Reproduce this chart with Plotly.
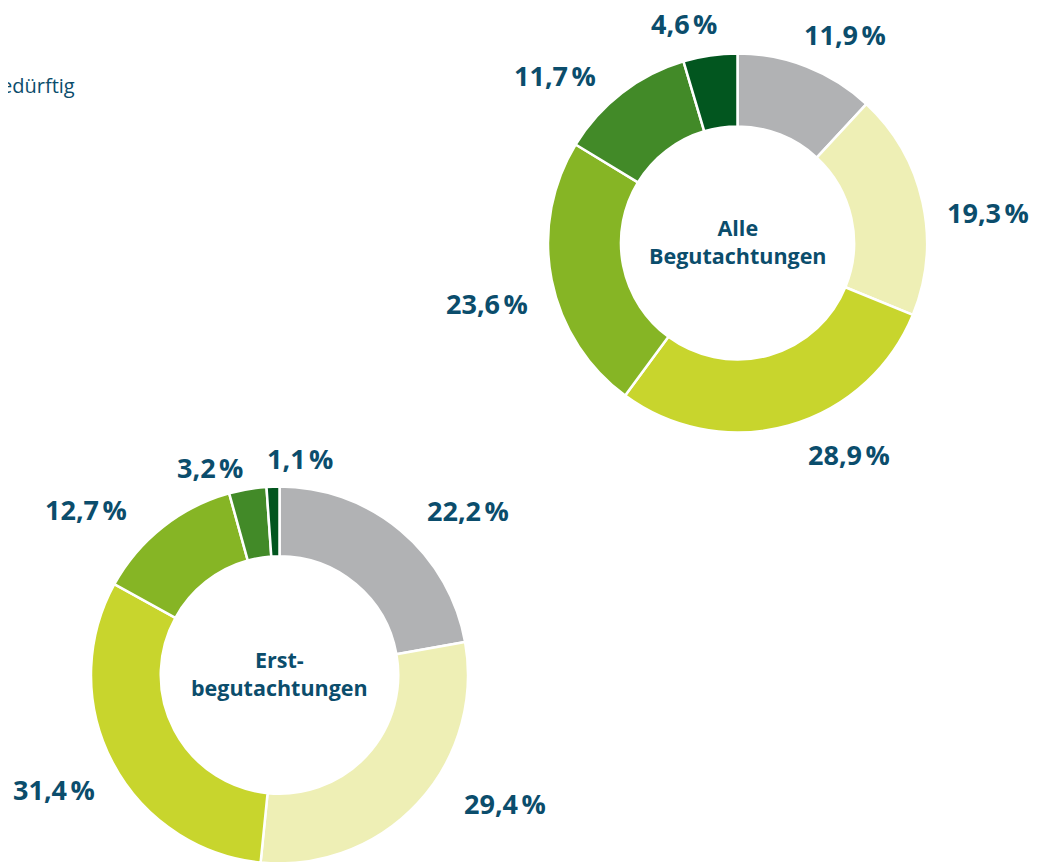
import math
import plotly.graph_objects as go

# ---- data ----
categories = ["nicht pflegebedürftig", "Pflegegrad 1", "Pflegegrad 2",
              "Pflegegrad 3", "Pflegegrad 4", "Pflegegrad 5"]
alle_values = [11.9, 19.3, 28.9, 23.6, 11.7, 4.6]
erst_values = [22.2, 29.4, 31.4, 12.7, 3.2, 1.1]
alle_title = "Alle<br>Begutachtungen"
erst_title = "Erst-<br>begutachtungen"
legend_label = "nicht pflegebedürftig"

# ---- style ----
W, H = 1040, 862
OFF = 8  # page body margin
colors = ["#b1b2b4", "#eeefb5", "#c8d52d", "#86b525", "#428a28", "#02561f"]
text_color = "#0b4d6c"
font_family = "Open Sans, Roboto, DejaVu Sans, sans-serif"

# donut geometry (page pixels)
top_c, top_r = (737.5, 243.0), 189.5
bot_c, bot_r = (279.5, 675.0), 188.5
label_radius = 245
# manual nudges for label placement (pixels)
alle_nudge = [(18, 20), (11, 22), (45, -24), (-10, 13), (-33, 27), (-18, 23)]
erst_nudge = [(31, 23), (46, -38), (-9, 1), (-42, 27), (-28, 34), (29, 28)]


def px2x(px):
    return (px - OFF) / W


def py2y(py):
    return 1 - (py - OFF) / H


def domain(c, r):
    x0, x1 = px2x(c[0] - r), px2x(c[0] + r)
    y1 = py2y(c[1] - r)
    y0 = max(0.0, py2y(c[1] + r))
    return dict(x=[x0, x1], y=[y0, y1])


def fmt(v):
    return f"{v:.1f}".replace(".", ",") + "\u202f%"


fig = go.Figure()
for vals, c, r, hole in [(alle_values, top_c, top_r, 0.615),
                         (erst_values, bot_c, bot_r, 0.63)]:
    fig.add_trace(go.Pie(
        labels=categories, values=vals, sort=False, direction="clockwise",
        rotation=0, hole=hole, textinfo="none", hoverinfo="label+value",
        marker=dict(colors=colors, line=dict(color="white", width=2.5)),
        domain=domain(c, r), showlegend=False,
    ))

annotations = []
for vals, c, nudges in [(alle_values, top_c, alle_nudge),
                        (erst_values, bot_c, erst_nudge)]:
    total = sum(vals)
    cum = 0.0
    for v, (dx, dy) in zip(vals, nudges):
        mid = (cum + v / 2) / total * 2 * math.pi
        cum += v
        px = c[0] + label_radius * math.sin(mid) + dx
        py = c[1] - label_radius * math.cos(mid) + dy
        annotations.append(dict(
            x=px2x(px), y=py2y(py), xref="paper", yref="paper",
            text=f"<b>{fmt(v)}</b>", showarrow=False,
            xanchor="center", yanchor="middle",
            font=dict(family=font_family, size=27, color=text_color)))

for title, c in [(alle_title, top_c), (erst_title, bot_c)]:
    annotations.append(dict(
        x=px2x(c[0]), y=py2y(c[1] - 2), xref="paper", yref="paper",
        text=f"<b>{title}</b>", showarrow=False, xanchor="center",
        yanchor="middle", align="center",
        font=dict(family=font_family, size=21.5, color=text_color)))

# partially visible legend text at left edge
annotations.append(dict(
    x=px2x(77), y=py2y(85), xref="paper", yref="paper", text=legend_label,
    showarrow=False, xanchor="right", yanchor="middle",
    font=dict(family=font_family, size=20, color=text_color)))

fig.update_layout(
    width=W, height=H, margin=dict(l=0, r=0, t=0, b=0),
    paper_bgcolor="white", plot_bgcolor="white",
    annotations=annotations,
)
fig.write_html("out.html")
